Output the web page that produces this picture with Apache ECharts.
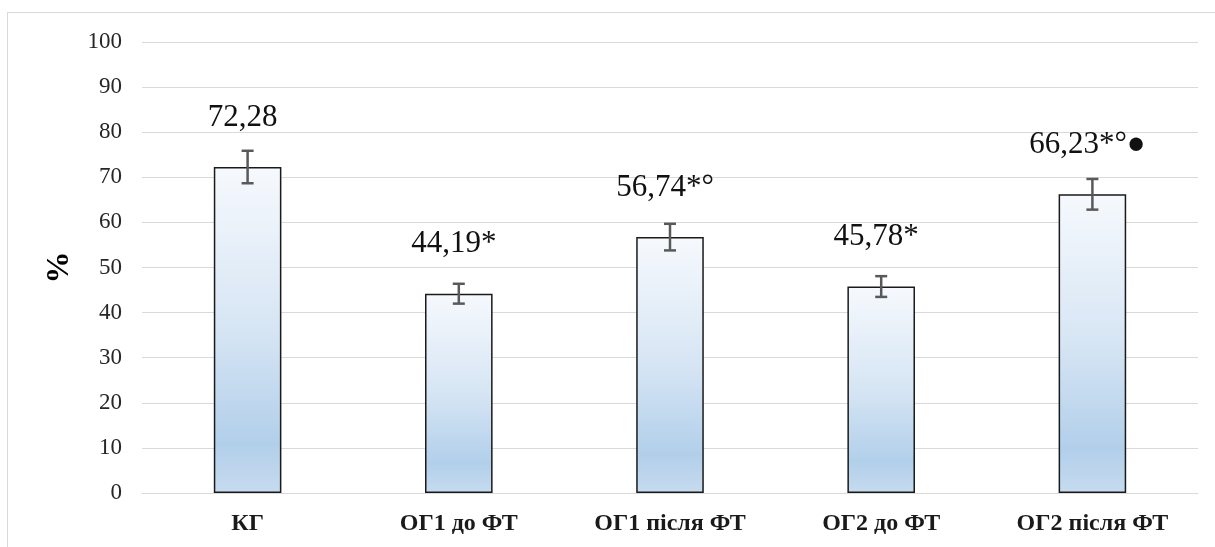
<!DOCTYPE html>
<html>
<head>
<meta charset="utf-8">
<script src="https://cdn.jsdelivr.net/npm/echarts@6/dist/echarts.min.js"></script>
<style>
  html, body { margin: 0; padding: 0; background: #ffffff; }
  #frame { position: absolute; left: 7px; top: 12px; width: 1400px; height: 700px;
           border-left: 1px solid #d9d9d9; border-top: 1px solid #d9d9d9; }
  #chart { position: absolute; left: 0; top: 0; width: 1215px; height: 547px; }
</style>
</head>
<body>
<div id="frame"></div>
<div id="chart"></div>
<script>
const categories = ['КГ', 'ОГ1 до ФТ', 'ОГ1 після ФТ', 'ОГ2 до ФТ', 'ОГ2 після ФТ'];
const values = [72.28, 44.19, 56.74, 45.78, 66.23];
const errors = [3.6, 2.2, 2.95, 2.3, 3.4];
const valueLabels = ['72,28', '44,19*', '56,74*°', '45,78*', '66,23*°●'];
const yTicks = { min: 0, max: 100, interval: 10 };

const serif = '"Liberation Serif", "DejaVu Serif", serif';

const chart = echarts.init(document.getElementById('chart'), null, { renderer: 'canvas' });

const option = {
  animation: false,
  backgroundColor: 'transparent',
  grid: { left: 142, right: 17, top: 42, bottom: 54 },
  xAxis: {
    type: 'category',
    data: categories,
    axisLine: { show: true, lineStyle: { color: '#d9d9d9', width: 1 } },
    axisTick: { show: false },
    axisLabel: { fontFamily: serif, fontWeight: 'bold', fontSize: 24, color: '#1a1a1a', margin: 19 }
  },
  yAxis: {
    type: 'value',
    min: yTicks.min, max: yTicks.max, interval: yTicks.interval,
    name: '%',
    nameLocation: 'middle',
    nameGap: 66,
    nameTextStyle: { fontFamily: serif, fontWeight: 'bold', fontSize: 32, color: '#000' },
    axisLine: { show: false },
    axisTick: { show: false },
    splitLine: { lineStyle: { color: '#d9d9d9', width: 1 } },
    axisLabel: { fontFamily: serif, fontSize: 23, color: '#262626', margin: 20 }
  },
  series: [
    {
      type: 'bar',
      barWidth: '32%',
      data: values.map((v, i) => ({ value: v, label: { formatter: valueLabels[i] } })),
      itemStyle: {
        borderColor: '#1a1a1a',
        borderWidth: 1.5,
        color: new echarts.graphic.LinearGradient(0, 0, 0, 1, [
          { offset: 0, color: '#f6f9fd' },
          { offset: 0.5, color: '#d6e5f4' },
          { offset: 0.85, color: '#b2cfea' },
          { offset: 1, color: '#c6dbef' }
        ])
      },
      label: {
        show: true,
        position: 'top',
        distance: 34,
        offset: [-5, 0],
        fontFamily: serif,
        fontSize: 31,
        color: '#111'
      },
      z: 2
    },
    {
      type: 'custom',
      data: values.map((v, i) => [i, v - errors[i], v + errors[i]]),
      renderItem: function (params, api) {
        const x = api.value(0);
        const lo = api.coord([x, api.value(1)]);
        const hi = api.coord([x, api.value(2)]);
        const cap = 6;
        const style = { stroke: '#595959', lineWidth: 2.5, fill: null };
        return {
          type: 'group',
          children: [
            { type: 'line', shape: { x1: hi[0], y1: hi[1], x2: lo[0], y2: lo[1] }, style: style },
            { type: 'line', shape: { x1: hi[0] - cap, y1: hi[1], x2: hi[0] + cap, y2: hi[1] }, style: style },
            { type: 'line', shape: { x1: lo[0] - cap, y1: lo[1], x2: lo[0] + cap, y2: lo[1] }, style: style }
          ]
        };
      },
      z: 5
    }
  ]
};
chart.setOption(option);
</script>
</body>
</html>
